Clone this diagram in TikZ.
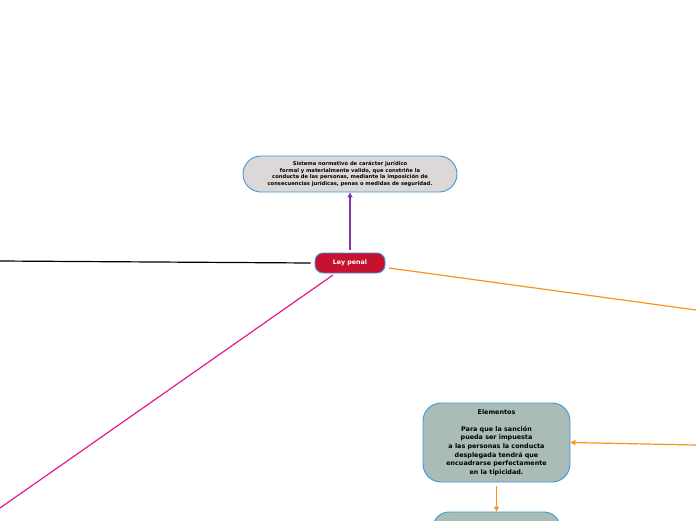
\documentclass[tikz,border=0pt]{standalone}
\usepackage{fontspec}
\setmainfont{DejaVu Sans}
\usetikzlibrary{arrows.meta}
\definecolor{bord}{HTML}{3A9AD9}
\definecolor{topfill}{HTML}{DDD8D8}
\definecolor{leyfill}{HTML}{C41230}
\definecolor{elfill}{HTML}{A9BCB6}
\definecolor{purp}{HTML}{7E3BA6}
\definecolor{oran}{HTML}{F7931E}
\definecolor{pinkc}{HTML}{E6198C}
\tikzset{
  x=1pt,y=1pt,
  boxbase/.style={draw=bord, line width=0.9pt, align=center, inner sep=0pt, font=\bfseries},
  topbox/.style={boxbase, fill=topfill, rounded corners=18pt, minimum width=214pt, minimum height=36pt, font=\bfseries\fontsize{5.2}{6.4}\selectfont},
  leybox/.style={boxbase, fill=leyfill, text=white, rounded corners=8pt, minimum width=70pt, minimum height=20pt, font=\bfseries\fontsize{6.3}{7.5}\selectfont},
  elbox/.style={boxbase, fill=elfill, rounded corners=18pt, minimum width=147pt, minimum height=79pt, font=\bfseries\fontsize{6.4}{8.6}\selectfont},
  conn/.style={line width=1.2pt},
  tip/.style={-{Triangle[length=5pt,width=5pt]}}
}
\begin{document}
\begin{tikzpicture}
\useasboundingbox (0,0) rectangle (696,-520);
\clip (0,0) rectangle (696,-520);
\fill[white] (0,0) rectangle (696,-520);

\node[topbox] (def) at (350,-174) {Sistema normativo de carácter jurídico\\formal y materialmente valido, que constriñe la\\conducta de las personas, mediante la imposición de\\consecuencias jurídicas, penas o medidas de seguridad.};
\node[leybox] (ley) at (350,-263) {Ley penal};
\node[elbox] (el) at (496.5,-442.5) {Elementos\\[8.6pt]Para que la sanción\\pueda ser impuesta\\a las personas la conducta\\desplegada tendrá que\\encuadrarse perfectamente\\en la tipicidad.};
\node[boxbase, fill=elfill, rounded corners=16pt, minimum width=127pt, minimum height=50pt] (sub) at (496.5,-537) {};

\coordinate (lfree) at (0,-261);
\coordinate (rfree) at (696,-310);
\coordinate (pfree) at (0,-508);
\coordinate (efree) at (696,-445);

\draw[conn, purp, tip] (350,-250) -- (def.south);
\draw[conn, black] (ley.west) ++(-4,0) -- (lfree);
\draw[conn, oran] (389,-268) -- (rfree);
\draw[conn, pinkc] (333,-275) -- (pfree);
\draw[conn, oran, tip] (efree) -- (el.east);
\draw[conn, oran, tip] (496.5,-486) -- (sub.north);
\end{tikzpicture}
\end{document}
